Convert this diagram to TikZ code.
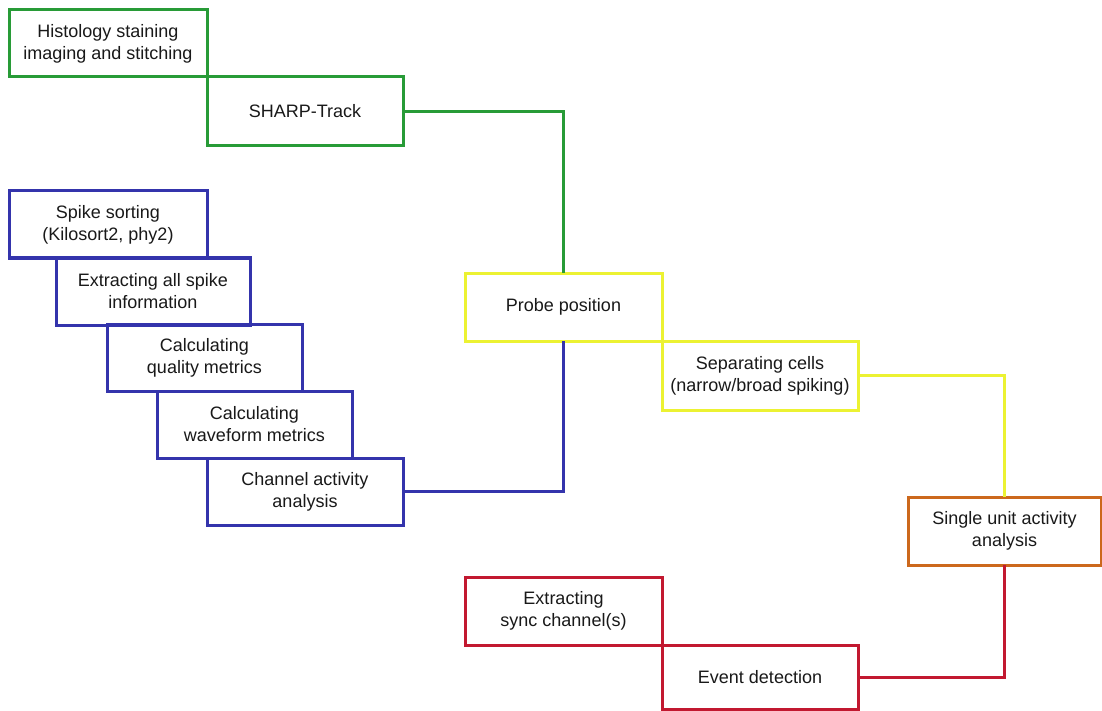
\documentclass[tikz,border=0pt]{standalone}
\usepackage{fontspec}
\setmainfont{Liberation Sans}
\usepackage{xcolor}
\usepackage{tikz}
\usetikzlibrary{positioning}

\definecolor{histgreen}{RGB}{40,155,55}
\definecolor{spikeblue}{RGB}{52,52,172}
\definecolor{probeyellow}{RGB}{236,242,50}
\definecolor{unitorange}{RGB}{204,104,28}
\definecolor{syncred}{RGB}{194,24,48}

\begin{document}
\begin{tikzpicture}[x=1pt,y=-1pt,link/.style = {line width=3pt}]
					\tikzset{stage/.style={draw,rectangle,line width=3pt,outer sep=0pt,anchor=north west,align=center,minimum width=196pt,minimum height=67pt,text=black!90,font=\fontsize{18}{22}\selectfont}}

					\useasboundingbox[fill=white] (0,0) rectangle (1102,711);

					% Histologia
					\node[stage, draw=histgreen, minimum width=198pt] (hist) at (9,10) {Histology staining\\imaging and stitching};
					\node[stage, draw=histgreen, minimum height=69pt, below right=0pt and 0pt of hist] (sharp) {SHARP-Track};

					% Spikes
					\node[stage, draw=spikeblue, minimum width=198pt] (spike) at (9,191) {Spike sorting\\(Kilosort2, phy2)};
					\node[stage, draw=spikeblue, minimum width=194pt] (extract) at (56,258) {Extracting all spike\\information};
					\node[stage, draw=spikeblue, minimum width=195pt] (quality) at (107,324) {Calculating\\quality metrics};
					\node[stage, draw=spikeblue, minimum width=195pt] (waveform) at (157,391) {Calculating\\waveform metrics};
					\node[stage, draw=spikeblue] (channel) at (207,458) {Channel activity\\analysis};

					% Sonda
					\node[stage, draw=probeyellow, minimum width=197pt, minimum height=68pt] (probe) at (465,273) {Probe position};
					\node[stage, draw=probeyellow, minimum height=69pt, below right=0pt and 0pt of probe] (sep) {Separating cells\\(narrow/broad spiking)};

					\node[stage, draw=unitorange, minimum width=193pt, minimum height=68pt] (single) at (908,497) {Single unit activity\\analysis};

					% Sync
					\node[stage, draw=syncred, minimum width=197pt, minimum height=68pt] (sync) at (465,577) {Extracting\\sync channel(s)};
					\node[stage, draw=syncred, minimum height=64pt, below right=0pt and 0pt of sync] (event) {Event detection};

					\draw [link, histgreen] (sharp.east) -| (probe.north);
					\draw [link, spikeblue] (channel.east) -| (probe.south);
					\draw [link, probeyellow] (sep.east) -| (single.north);
					\draw [link, syncred] (event.east) -| (single.south);

				\end{tikzpicture}
\end{document}
